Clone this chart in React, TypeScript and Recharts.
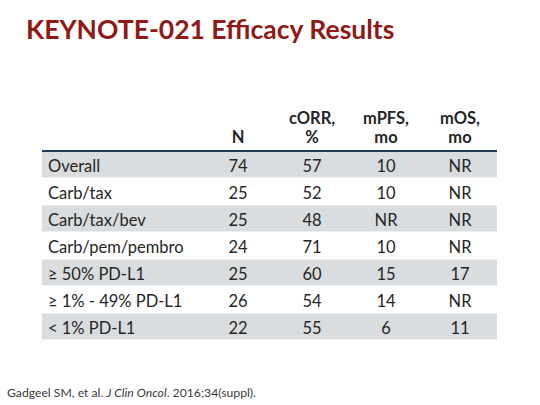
import React from 'react';
import { BarChart, Bar, XAxis, YAxis, Cell, LabelList } from 'recharts';

// table rows
const groups = [
  'Overall',
  'Carb/tax',
  'Carb/tax/bev',
  'Carb/pem/pembro',
  '≥ 50% PD-L1',
  '≥ 1% - 49% PD-L1',
  '< 1% PD-L1',
];
const nValues = [74, 25, 25, 24, 25, 26, 22];
const corrValues = [57, 52, 48, 71, 60, 54, 55];
const mpfsValues = ['10', '10', 'NR', '10', '15', '14', '6'];
const mosValues = ['NR', 'NR', 'NR', 'NR', '17', 'NR', '11'];

const headers = [
  ['', 'N'],
  ['cORR,', '%'],
  ['mPFS,', 'mo'],
  ['mOS,', 'mo'],
];

const rows = groups.map((g, i) => ({
  group: g,
  n: nValues[i],
  corr: corrValues[i],
  mpfs: mpfsValues[i],
  mos: mosValues[i],
}));

// column widths in px (label column + 4 value columns)
const COL_W = [159, 74, 74, 74, 74];
const TOTAL_W = COL_W.reduce((a, b) => a + b, 0);
const colCenters = COL_W.slice(1).map(
  (w, i) => COL_W.slice(0, i + 1).reduce((a, b) => a + b, 0) + w / 2
);

const FONT = 'Lato, "Open Sans", sans-serif';
const TEXT = '#262626';
const GRAY = '#d9dde0';
const rowFill = (i: number) => (i % 2 === 0 ? GRAY : '#ffffff');

const HeaderTick = (props: any) => {
  const { x, y, index } = props;
  const lines = headers[index] || ['', ''];
  return (
    <g>
      <text x={x} y={y - 19} textAnchor="middle" fill={TEXT} fontSize={16.5} fontWeight={700} fontFamily={FONT}>
        {lines[0]}
      </text>
      <text x={x} y={y} textAnchor="middle" fill={TEXT} fontSize={16.5} fontWeight={700} fontFamily={FONT}>
        {lines[1]}
      </text>
    </g>
  );
};

const cellText = (anchor: 'start' | 'middle') => (props: any) => {
  const { x, y, width, height, value } = props;
  const tx = anchor === 'start' ? x + 6 : x + width / 2;
  return (
    <text
      x={tx}
      y={y + height / 2 + 1}
      textAnchor={anchor}
      dominantBaseline="central"
      fill={TEXT}
      fontSize={16.5}
      fontFamily={FONT}
    >
      {value}
    </text>
  );
};

const valueKeys = ['n', 'corr', 'mpfs', 'mos'];

export default function App() {
  return (
    <div style={{ position: 'absolute', left: 0, top: 0, width: 540, height: 405, background: '#fff' }}>
      <div
        style={{
          position: 'absolute',
          left: 26,
          top: 13,
          fontFamily: FONT,
          fontWeight: 700,
          fontSize: 26.5,
          color: '#911915',
          whiteSpace: 'nowrap',
        }}
      >
        KEYNOTE-021 Efficacy Results
      </div>
      <BarChart
        width={540}
        height={405}
        data={rows}
        layout="vertical"
        barCategoryGap={0.5}
        margin={{ top: 91, right: 43, bottom: 65, left: 42 }}
      >
        <XAxis
          type="number"
          orientation="top"
          domain={[0, TOTAL_W]}
          ticks={colCenters}
          interval={0}
          height={60}
          tickLine={false}
          tickSize={0}
          tickMargin={8}
          axisLine={{ stroke: '#1f3a56', strokeWidth: 2 }}
          tick={<HeaderTick />}
        />
        <YAxis type="category" dataKey="group" hide />
        <Bar dataKey={() => COL_W[0]} stackId="row" isAnimationActive={false}>
          {rows.map((_, i) => (
            <Cell key={i} fill={rowFill(i)} />
          ))}
          <LabelList dataKey="group" content={cellText('start')} />
        </Bar>
        {valueKeys.map((k, c) => (
          <Bar key={k} dataKey={() => COL_W[c + 1]} stackId="row" isAnimationActive={false}>
            {rows.map((_, i) => (
              <Cell key={i} fill={rowFill(i)} />
            ))}
            <LabelList dataKey={k} content={cellText('middle')} />
          </Bar>
        ))}
      </BarChart>
      <div
        style={{
          position: 'absolute',
          left: 7,
          top: 385,
          fontFamily: FONT,
          fontSize: 12.2,
          color: '#3a3a3a',
          whiteSpace: 'nowrap',
        }}
      >
        Gadgeel SM, et al. <i>J Clin Oncol</i>. 2016;34(suppl).
      </div>
    </div>
  );
}
